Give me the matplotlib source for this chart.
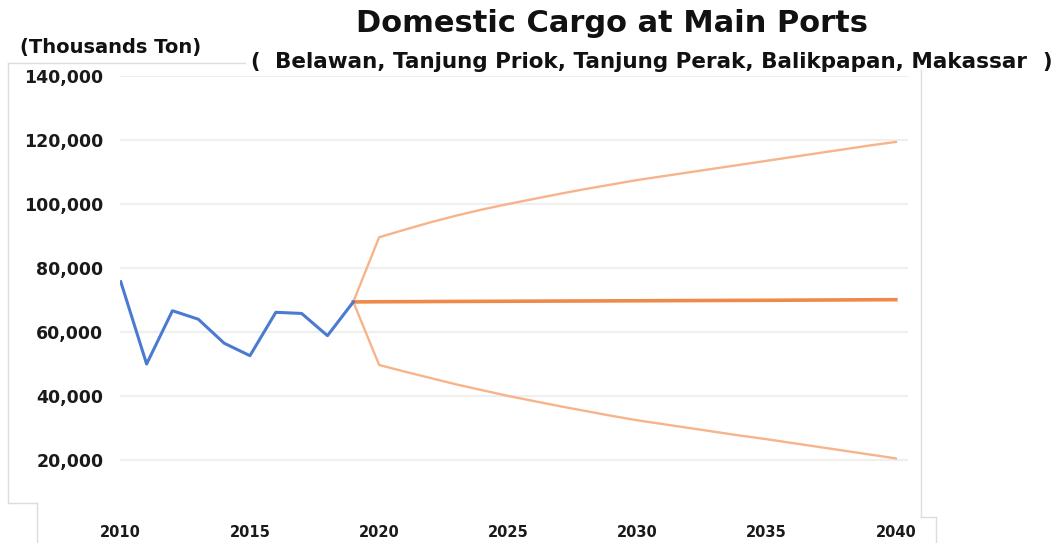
import matplotlib
matplotlib.use("Agg")
import matplotlib.pyplot as plt
from matplotlib.lines import Line2D

# Historical domestic cargo (thousand tons)
hist_years = list(range(2010, 2020))
hist_values = [75700, 50000, 66650, 64000, 56500, 52600, 66150, 65800, 58850, 69400]

# Forecast scenarios 2019-2040
fc_years = list(range(2019, 2041))
fc_base = [69400, 69450, 69480, 69520, 69550, 69580, 69610, 69640, 69670, 69700, 69730,
           69760, 69790, 69820, 69850, 69880, 69910, 69950, 69990, 70030, 70070, 70100]
fc_high = [69400, 89600, 92000, 94300, 96400, 98300, 100000, 101600, 103200, 104700, 106100,
           107500, 108700, 109900, 111100, 112300, 113500, 114700, 115900, 117100, 118300, 119400]
fc_low = [69400, 49700, 47600, 45600, 43600, 41800, 40000, 38400, 36800, 35300, 33800,
          32400, 31200, 30000, 28800, 27600, 26500, 25300, 24100, 22900, 21700, 20500]

x_ticks = [2010, 2015, 2020, 2025, 2030, 2035, 2040]
y_ticks = [20000, 40000, 60000, 80000, 100000, 120000, 140000]

title = "Domestic Cargo at Main Ports"
subtitle = "Belawan, Tanjung Priok, Tanjung Perak, Balikpapan, Makassar"
unit = "(Thousands Ton)"

FONT = "DejaVu Sans"
W, H = 1064, 543
fig = plt.figure(figsize=(W / 100, H / 100), dpi=100)
fig.patch.set_facecolor("white")

def fx(px):
    return px / W

def fy(py):
    return 1 - py / H

ax = fig.add_axes([fx(120), fy(524), fx(908) - fx(120), fy(76) - fy(524)])
ax.set_xlim(2009.97, 2040.47)
ax.set_ylim(0, 140000)

for yv in y_ticks:
    ax.axhline(yv, color="#efefef", lw=1.6, zorder=0)

ax.plot(fc_years, fc_high, color="#f7b48a", lw=1.7, zorder=2)
ax.plot(fc_years, fc_low, color="#f7b48a", lw=1.7, zorder=2)
ax.plot(fc_years, fc_base, color="#ef8a4a", lw=2.6, zorder=3)
ax.plot(hist_years, hist_values, color="#4a7bd0", lw=2.2, zorder=4)

for s in ax.spines.values():
    s.set_visible(False)
ax.tick_params(length=0)
ax.set_xticks(x_ticks)
ax.set_xticklabels([str(v) for v in x_ticks], fontsize=10.5, fontweight="bold",
                   family=FONT, color="#1a1a1a")
ax.tick_params(axis="x", pad=1)
ax.set_yticks(y_ticks)
ax.set_yticklabels([f"{v:,}" for v in y_ticks], fontsize=12.5, fontweight="bold",
                   family=FONT, color="#1a1a1a")
ax.tick_params(axis="y", pad=12)

# Titles and unit label
fig.text(fx(612), fy(24), title, ha="center", va="center", fontsize=22,
         fontweight="bold", family=FONT, color="#111111")
fig.text(fx(250), fy(62), "(", ha="left", va="center", fontsize=15,
         fontweight="bold", family=FONT, color="#111111")
fig.text(fx(1052), fy(62), ")", ha="right", va="center", fontsize=15,
         fontweight="bold", family=FONT, color="#111111")
fig.text(fx(651), fy(62), subtitle, ha="center", va="center", fontsize=15.5,
         fontweight="bold", family=FONT, color="#111111")
fig.text(fx(20), fy(48), unit, ha="left", va="center", fontsize=14,
         fontweight="bold", family=FONT, color="#111111")

# Light panel frame lines
frame_col = "#dcdcdc"
segs = [
    ((8, 63), (8, 503)),
    ((8, 503), (37, 503)),
    ((37, 503), (37, 543)),
    ((8, 63), (245, 63)),
    ((921, 70), (921, 517)),
    ((921, 517), (936, 517)),
    ((936, 517), (936, 543)),
]
for (x0, y0), (x1, y1) in segs:
    fig.add_artist(Line2D([fx(x0), fx(x1)], [fy(y0), fy(y1)], color=frame_col, lw=1.0,
                          transform=fig.transFigure, zorder=0))

fig.savefig("out.png", dpi=100, facecolor="white")
